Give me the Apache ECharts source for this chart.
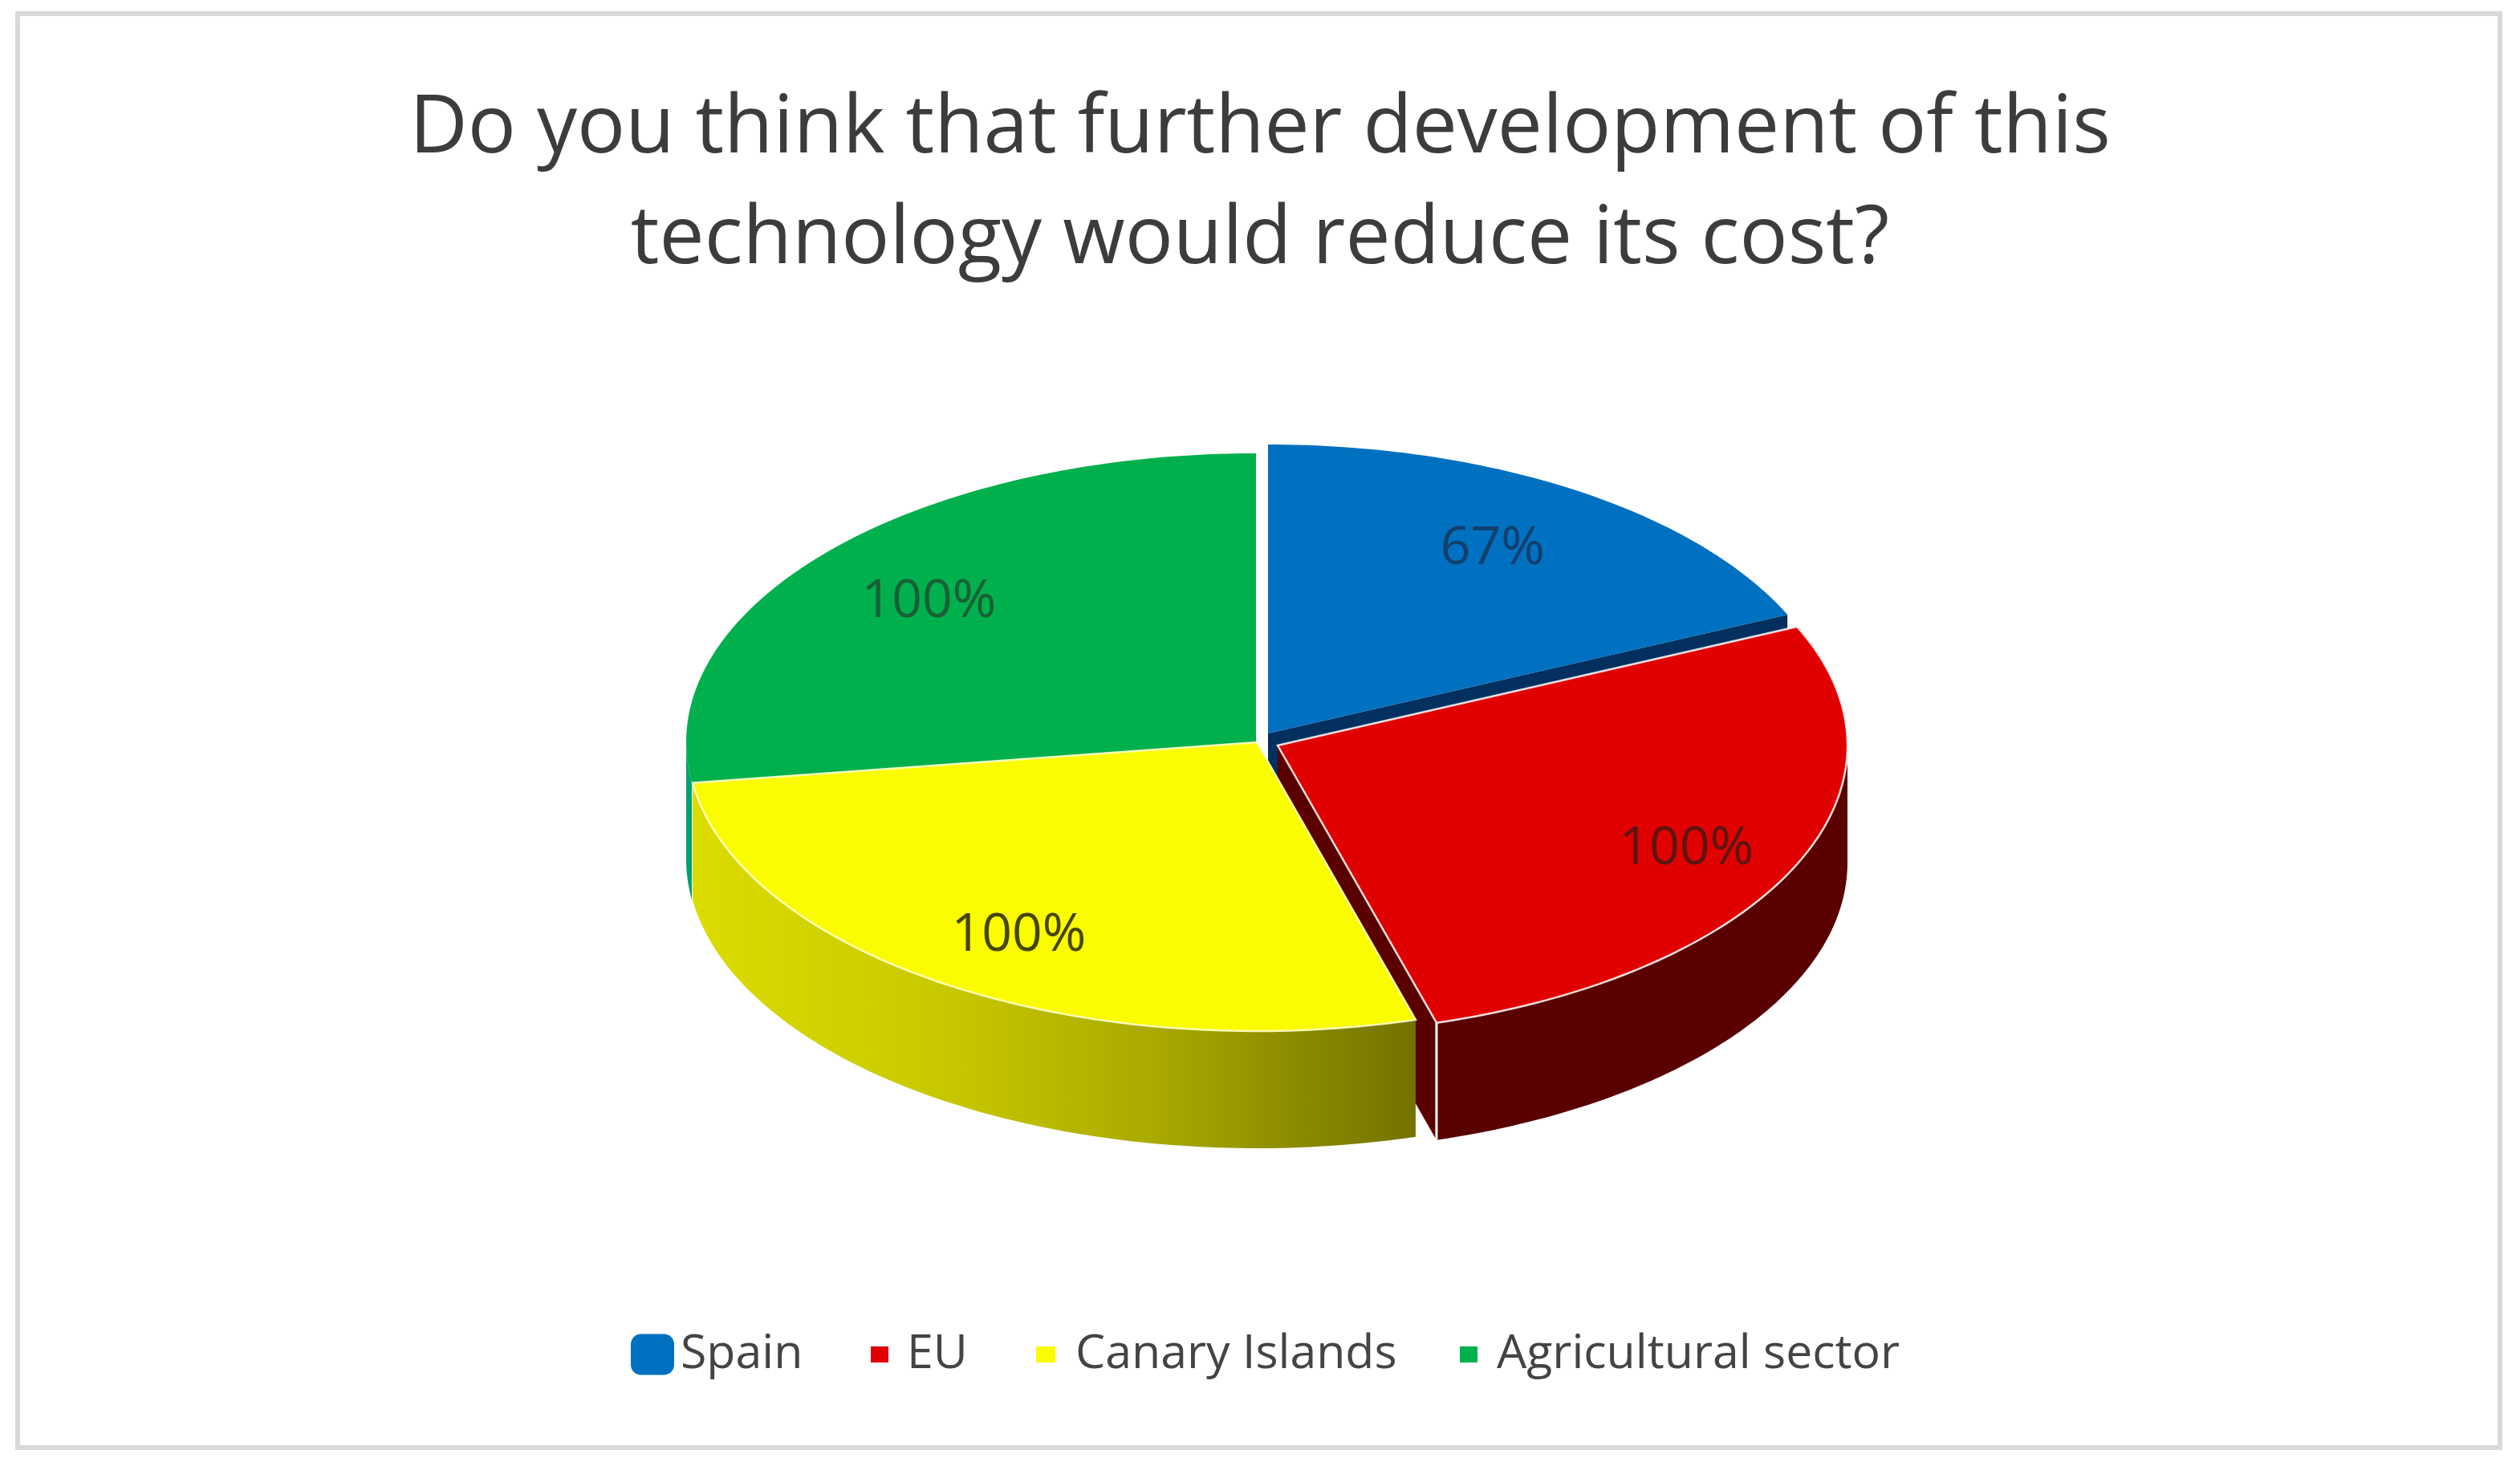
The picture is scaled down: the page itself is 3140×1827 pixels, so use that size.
<!DOCTYPE html>
<html>
<head>
<meta charset="utf-8">
<style>html,body{margin:0;padding:0;background:#fff}#c{width:3140px;height:1827px}</style>
<script src="https://cdn.jsdelivr.net/npm/echarts@6/dist/echarts.min.js"></script>
</head>
<body>
<div id="c"></div>
<script>
const categories = ['Spain', 'EU', 'Canary Islands', 'Agricultural sector'];
const values = [67, 100, 100, 100];
const valueLabels = ['67%', '100%', '100%', '100%'];
const titleLines = ['Do you think that further development of this', 'technology would reduce its cost?'];

const FONT = '"Open Sans", Lato, sans-serif';
const RX = 710, RY = 360, DEPTH = 146;
const sliceCenters = [[1580, 914], [1592, 929], [1566, 925], [1565, 925]];
const labelFractions = [[0.726, 0.76], [0.79, 0.857], [0.77, 0.796], [0.76, 0.74]];
const topColors = ['#0070c0', '#e00000', '#fcfc00', '#00b04c'];
const faceColors = ['#03305f', '#5a0000', '#757500', '#00a070'];
const labelColors = ['#123f6c', '#5c1512', '#46460c', '#1a5f36'];
// drawing order across slices
const Z = {
  0: {face: 1, wall: 1, top: 2},
  1: {face: 3, wall: 10, top: 11},
  2: {face: 6, wall: 6, top: 7},
  3: {face: 4, wall: 4, top: 5}
};

const total = values.reduce((a, b) => a + b, 0);
function startAngle(i) {
  let s = 0;
  for (let k = 0; k < i; k++) s += values[k];
  return s / total * 360;
}
function pt(c, deg, dz) {
  const a = deg * Math.PI / 180;
  return [c[0] + RX * Math.sin(a), c[1] - RY * Math.cos(a) + (dz || 0)];
}
function arcPoints(c, a0, a1, dz) {
  const pts = [], n = Math.max(2, Math.ceil(Math.abs(a1 - a0)));
  for (let j = 0; j <= n; j++) pts.push(pt(c, a0 + (a1 - a0) * j / n, dz));
  return pts;
}

function renderSlice(i) {
  return function (params, api) {
    const v = api.value(0);
    const a0 = startAngle(i), a1 = a0 + v / total * 360;
    const c = sliceCenters[i], z = Z[i];
    const children = [];
    // radial cut face at the slice's clockwise end
    if (i === 0 || i === 1) {
      const tip = pt(c, a1);
      children.push({
        type: 'polygon', z2: z.face,
        shape: {points: [c, tip, [tip[0], tip[1] + DEPTH], [c[0], c[1] + DEPTH]]},
        style: {fill: faceColors[i]}
      });
    }
    // outer wall: only the front half of the ellipse (90..270 degrees)
    const w0 = Math.max(a0, 90), w1 = Math.min(a1, 270);
    if (w1 > w0) {
      const upper = arcPoints(c, w0, w1, 0);
      const lower = arcPoints(c, w1, w0, DEPTH);
      const fill = i === 2
        ? new echarts.graphic.LinearGradient(0, 0, 1, 0, [
            {offset: 0, color: '#dcdc00'},
            {offset: 0.35, color: '#c8c800'},
            {offset: 0.65, color: '#a8a800'},
            {offset: 1, color: '#727200'}
          ])
        : faceColors[i];
      children.push({
        type: 'polygon', z2: z.wall,
        shape: {points: upper.concat(lower)},
        style: {fill: fill}
      });
    }
    // white seam at the red slice's front corner
    if (i === 1) {
      const tip = pt(c, a1);
      children.push({
        type: 'line', z2: z.wall + 0.5,
        shape: {x1: tip[0], y1: tip[1], x2: tip[0], y2: tip[1] + DEPTH},
        style: {stroke: '#ffffff', lineWidth: 3}
      });
    }
    // top surface
    const stroke = i === 1 ? 'rgba(255,255,255,0.85)' : (i === 2 ? 'rgba(255,255,200,0.9)' : null);
    children.push({
      type: 'polygon', z2: z.top,
      shape: {points: [c].concat(arcPoints(c, a0, a1, 0))},
      style: {fill: topColors[i], stroke: stroke, lineWidth: stroke ? 2.5 : 0}
    });
    // data label
    const mid = (a0 + a1) / 2 * Math.PI / 180, fr = labelFractions[i];
    children.push({
      type: 'text', z2: 20,
      style: {
        x: c[0] + RX * fr[0] * Math.sin(mid),
        y: c[1] - RY * fr[1] * Math.cos(mid),
        text: valueLabels[i],
        fill: labelColors[i],
        font: '66px ' + FONT,
        align: 'center',
        verticalAlign: 'middle'
      }
    });
    return {type: 'group', children: children};
  };
}

const series = categories.map((name, i) => ({
  type: 'custom',
  name: name,
  coordinateSystem: 'none',
  silent: true,
  animation: false,
  itemStyle: {color: topColors[i]},
  data: [{name: name, value: [values[i]]}],
  renderItem: renderSlice(i)
}));

const legendText = {color: '#444444', fontFamily: FONT, fontSize: 59, lineHeight: 60};
const legendSpec = [
  {left: 786, w: 54, h: 51, icon: 'roundRect', pad: 3},
  {left: 1085, w: 22, h: 20, icon: 'rect', pad: 18},
  {left: 1291, w: 24, h: 20, icon: 'rect', pad: 20},
  {left: 1819, w: 22, h: 20, icon: 'rect', pad: 19}
];

const chart = echarts.init(document.getElementById('c'), null, {renderer: 'canvas'});
chart.setOption({
  backgroundColor: '#ffffff',
  animation: false,
  title: {
    text: titleLines.join('\n'),
    left: 1565,
    textAlign: 'center',
    top: 88,
    textStyle: {
      fontFamily: FONT, fontSize: 100, fontWeight: 'normal',
      color: '#3c3c3c', lineHeight: 138
    }
  },
  legend: categories.map((name, i) => ({
    data: [{name: name, icon: legendSpec[i].icon}],
    left: legendSpec[i].left,
    top: 1658,
    padding: 0,
    itemWidth: legendSpec[i].w,
    itemHeight: legendSpec[i].h,
    selectedMode: false,
    textStyle: Object.assign({padding: [0, 0, 0, legendSpec[i].pad]}, legendText)
  })),
  graphic: [{
    type: 'rect', silent: true, z: -1,
    shape: {x: 22, y: 17, width: 3093, height: 1787},
    style: {fill: 'none', stroke: '#d9d9d9', lineWidth: 6}
  }],
  series: series
});
</script>
</body>
</html>
